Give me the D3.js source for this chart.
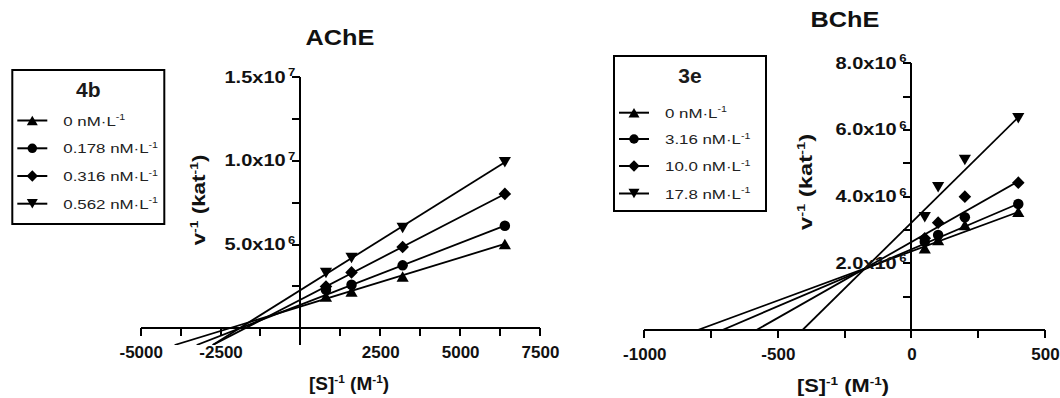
<!DOCTYPE html>
<html>
<head>
<meta charset="utf-8">
<script src="https://cdn.jsdelivr.net/npm/d3@7"></script>
<style>
  body { margin: 0; background: #fff; }
  svg { display: block; font-family: Arial, "Liberation Sans", sans-serif; }
</style>
</head>
<body>
<div id="root"></div>
<script>
// ---- AChE / 4b ----
const acheX = [800, 1600, 3200, 6400];
const acheConc = ['0', '0.178', '0.316', '0.562'];
const acheV0 = [1.90e6, 2.20e6, 3.10e6, 5.04e6];
const acheV178 = [2.30e6, 2.60e6, 3.76e6, 6.13e6];
const acheV316 = [2.50e6, 3.34e6, 4.86e6, 8.03e6];
const acheV562 = [3.30e6, 4.20e6, 6.00e6, 9.93e6];
const acheSlope = [584, 739, 987, 1195];
const acheIntercept = [1.30e6, 1.40e6, 1.71e6, 2.28e6];
const acheXTicks = [-5000, -3750, -2500, -1250, 0, 1250, 2500, 3750, 5000, 6250, 7500];
const acheXLabeled = [-5000, -2500, 2500, 5000, 7500];
const acheYTicks = [2.5e6, 5e6, 7.5e6, 1e7, 1.25e7, 1.5e7];
const acheYLabeled = [5e6, 1e7, 1.5e7];

// ---- BChE / 3e ----
const bcheX = [50, 100, 200, 400];
const bcheConc = ['0', '3.16', '10.0', '17.8'];
const bcheV0 = [2.45e6, 2.70e6, 3.15e6, 3.55e6];
const bcheV316 = [2.65e6, 2.85e6, 3.38e6, 3.78e6];
const bcheV100 = [2.75e6, 3.22e6, 4.00e6, 4.42e6];
const bcheV178 = [3.38e6, 4.28e6, 5.10e6, 6.35e6];
const bcheSlope = [2950, 3420, 4550, 7900];
const bcheIntercept = [2.36e6, 2.42e6, 2.64e6, 3.22e6];
const bcheXTicks = [-1000, -750, -500, -250, 0, 250, 500];
const bcheXLabeled = [-1000, -500, 0, 500];
const bcheYTicks = [1e6, 2e6, 3e6, 4e6, 5e6, 6e6, 7e6, 8e6];
const bcheYLabeled = [2e6, 4e6, 6e6, 8e6];

const shapes = ['tri', 'circle', 'diamond', 'down'];

const W = 1060, H = 398;
const svg = d3.select('#root').append('svg')
  .attr('width', W)
  .attr('height', H);
const tickLayer = [];   // axis marks drawn last, on top of everything

function markerPath(type, s) {
  if (type === 'circle') {
    const p = d3.path(); p.arc(0, 0, s * 0.5, 0, 2 * Math.PI); return p.toString();
  }
  if (type === 'diamond') {
    const r = s * 0.6;
    return `M0,${-r}L${r},0L0,${r}L${-r},0Z`;
  }
  const h = s * 0.5, w = s * 0.58;
  if (type === 'tri') return `M0,${-h}L${w},${h}L${-w},${h}Z`;
  return `M0,${h}L${w},${-h}L${-w},${-h}Z`;
}

// text with superscript pieces: parts = [[str, isSup], ...]
function richText(sel, parts, size) {
  parts.forEach(([str, sup]) => {
    const t = sel.append('tspan').text(str);
    if (sup) t.attr('font-size', size * 0.62).attr('dy', -size * 0.38);
    else if (sel.node().childNodes.length > 1) t.attr('dy', size * 0.38);
  });
  return sel;
}

function fmtExp(v) {
  const e = Math.floor(Math.log10(v) + 1e-9);
  return [(v / Math.pow(10, e)).toFixed(1) + 'x10', String(e)];
}

function drawPanel(p) {
  const x = d3.scaleLinear().domain(p.xDomain).range(p.xRange);
  const y = d3.scaleLinear().domain(p.yDomain).range(p.yRange);
  const g = svg.append('g');
  const y0 = +y(0);

  // x tick labels through d3's axis
  const xAxis = g.append('g')
    .attr('transform', `translate(0,${y0})`)
    .call(d3.axisBottom(x).tickValues(p.xTicks).tickSize(0).tickSizeOuter(0)
      .tickFormat(d => p.xLabeled.includes(d) ? String(d) : ''));
  xAxis.select('.domain').remove();
  xAxis.selectAll('.tick text')
    .attr('y', 18).attr('dy', '0.71em')
    .style('font-size', '17px').style('font-weight', 'bold')
    .attr('fill', '#111').attr('font-family', null);

  // regression lines
  const clipId = 'clip' + p.name;
  svg.append('clipPath').attr('id', clipId).append('rect')
    .attr('x', p.xRange[0]).attr('y', p.yRange[1])
    .attr('width', p.xRange[1] - p.xRange[0]).attr('height', p.yRange[0] - p.yRange[1]);
  p.slope.forEach((m, i) => {
    const b = p.intercept[i];
    const xa = (p.yDomain[0] - b) / m;
    const xb = d3.max(p.xs);
    g.append('line')
      .attr('clip-path', `url(#${clipId})`)
      .attr('x1', x(xa)).attr('y1', y(m * xa + b))
      .attr('x2', x(xb)).attr('y2', y(m * xb + b))
      .attr('stroke', '#000').attr('stroke-width', 1.8);
  });

  // points
  p.series.forEach((vals, i) => {
    g.selectAll(null).data(vals).enter().append('path')
      .attr('d', markerPath(shapes[i], p.markerSize))
      .attr('transform', (d, j) => `translate(${x(p.xs[j])},${y(d)})`)
      .attr('fill', '#000');
  });

  // axis lines and tick marks (collected, drawn at the end)
  tickLayer.push({x: p.xRange[0], y: Math.round(y0) - 1, w: p.xRange[1] - p.xRange[0], h: 2});
  tickLayer.push({x: Math.round(x(0)) - 1, y: p.yRange[1], w: 2, h: p.yRange[0] - p.yRange[1]});
  p.xTicks.forEach(d => tickLayer.push({x: Math.round(x(d)) - 1, y: Math.round(y0), w: 2, h: 8}));
  p.yTicks.forEach(d => tickLayer.push({x: Math.round(x(0)) - 8, y: Math.round(y(d)) - 1, w: 8, h: 2}));

  p.yLabeled.forEach(v => {
    const [mant, ex] = fmtExp(v);
    const t = g.append('text')
      .attr('transform', `translate(${x(0) - 5},${y(v) + 5.5}) scale(1.25,1)`)
      .attr('text-anchor', 'end')
      .style('font-size', '16px').style('font-weight', 'bold').attr('fill', '#111');
    t.append('tspan').text(mant);
    t.append('tspan').text(ex).attr('font-size', 10.5).attr('dx', 2).attr('dy', -6.5);
  });

  // title
  g.append('text')
    .attr('transform', `translate(${p.title.x},${p.title.y}) scale(1.15,1)`)
    .attr('text-anchor', 'middle')
    .style('font-size', '22px').style('font-weight', 'bold').attr('fill', '#111')
    .text(p.name);

  // axis titles
  richText(g.append('text')
    .attr('transform', `translate(${p.xTitle.x},${p.xTitle.y}) scale(${p.xTitle.sx},1)`)
    .attr('text-anchor', 'middle')
    .style('font-size', '19px').style('font-weight', 'bold').attr('fill', '#111'),
    [['[S]', false], ['-1', true], [' (M', false], ['-1', true], [')', false]], 19);

  richText(g.append('text')
    .attr('transform', `translate(${p.yTitle.x},${p.yTitle.y}) rotate(-90) scale(${p.yTitle.sx},1)`)
    .attr('text-anchor', 'middle')
    .style('font-size', '19px').style('font-weight', 'bold').attr('fill', '#111'),
    [['v', false], ['-1', true], [' (kat', false], ['-1', true], [')', false]], 19);

  // legend
  const L = p.legend;
  const lg = g.append('g');
  lg.append('rect')
    .attr('x', L.x).attr('y', L.y).attr('width', L.w).attr('height', L.h)
    .attr('fill', '#fff').attr('stroke', '#000').attr('stroke-width', 2);
  lg.append('text')
    .attr('x', L.x + L.w / 2).attr('y', L.y + 27)
    .attr('text-anchor', 'middle')
    .style('font-size', '21px').style('font-weight', 'bold').attr('fill', '#1a1a1a')
    .text(L.title);
  p.conc.forEach((c, i) => {
    const cy = L.rowY[i];
    lg.append('line')
      .attr('x1', L.x + 5).attr('x2', L.x + 35).attr('y1', cy).attr('y2', cy)
      .attr('stroke', '#000').attr('stroke-width', 2);
    lg.append('path')
      .attr('d', markerPath(shapes[i], 9.5))
      .attr('transform', `translate(${L.x + 20},${cy})`)
      .attr('fill', '#000');
    const t = lg.append('text')
      .attr('transform', `translate(${L.x + 51},${cy + 5}) scale(1.25,1)`)
      .style('font-size', '13.5px').attr('fill', '#222');
    t.append('tspan').text(c + ' nM\u00b7L');
    t.append('tspan').text('-1').attr('font-size', 8.5).attr('dy', -5.5);
  });
}

drawPanel({
  name: 'AChE',
  xs: acheX,
  series: [acheV0, acheV178, acheV316, acheV562],
  conc: acheConc,
  slope: acheSlope,
  intercept: acheIntercept,
  xDomain: [-5000, 7500], xRange: [140.7, 540],
  yDomain: [-1e6, 1.5e7], yRange: [345, 77.3],
  xTicks: acheXTicks, xLabeled: acheXLabeled,
  yTicks: acheYTicks, yLabeled: acheYLabeled,
  markerSize: 10.5,
  title: {x: 340, y: 45},
  xTitle: {x: 349, y: 390, sx: 1},
  yTitle: {x: 205, y: 200, sx: 1.18},
  legend: {x: 12.3, y: 70, w: 152, h: 154, title: '4b', rowY: [120.5, 148.3, 176, 203.7]}
});

drawPanel({
  name: 'BChE',
  xs: bcheX,
  series: [bcheV0, bcheV316, bcheV100, bcheV178],
  conc: bcheConc,
  slope: bcheSlope,
  intercept: bcheIntercept,
  xDomain: [-1000, 500], xRange: [644.3, 1045],
  yDomain: [0, 8e6], yRange: [330, 63.3],
  xTicks: bcheXTicks, xLabeled: bcheXLabeled,
  yTicks: bcheYTicks, yLabeled: bcheYLabeled,
  markerSize: 10.5,
  title: {x: 845, y: 27},
  xTitle: {x: 843, y: 392, sx: 1.15},
  yTitle: {x: 812, y: 182, sx: 1.25},
  legend: {x: 614, y: 56, w: 152, h: 155, title: '3e', rowY: [112.7, 139, 166, 193.5]}
});

svg.append('g').attr('class', 'axis-marks')
  .attr('shape-rendering', 'crispEdges')
  .selectAll('rect').data(tickLayer).enter().append('rect')
  .attr('x', d => d.x).attr('y', d => d.y)
  .attr('width', d => d.w).attr('height', d => d.h)
  .attr('fill', '#000');
</script>
</body>
</html>
